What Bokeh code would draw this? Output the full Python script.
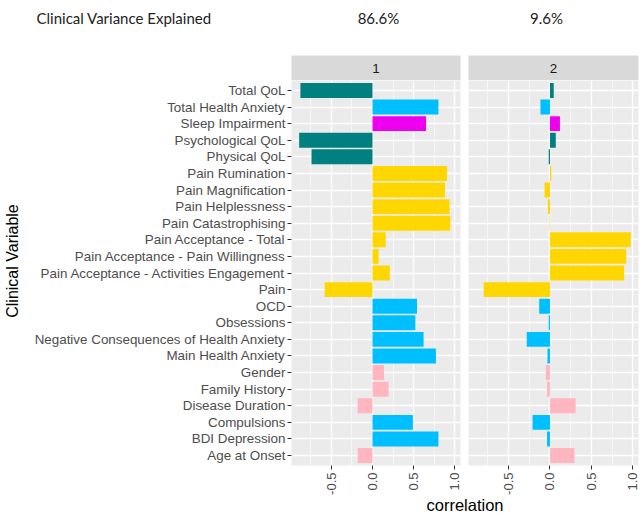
import math
from bokeh.plotting import figure
from bokeh.layouts import column, row
from bokeh.models import Range1d, FixedTicker, PrintfTickFormatter, ColumnDataSource
from bokeh.core.properties import value
from bokeh.embed import file_html
from bokeh.resources import INLINE

# ---------------- data ----------------
categories = [
    "Total QoL", "Total Health Anxiety", "Sleep Impairment", "Psychological QoL",
    "Physical QoL", "Pain Rumination", "Pain Magnification", "Pain Helplessness",
    "Pain Catastrophising", "Pain Acceptance - Total", "Pain Acceptance - Pain Willingness",
    "Pain Acceptance - Activities Engagement", "Pain", "OCD", "Obsessions",
    "Negative Consequences of Health Anxiety", "Main Health Anxiety", "Gender",
    "Family History", "Disease Duration", "Compulsions", "BDI Depression", "Age at Onset",
]
groups = [
    "qol", "anx", "sleep", "qol", "qol", "pain", "pain", "pain", "pain", "pain", "pain",
    "pain", "pain", "anx", "anx", "anx", "anx", "demo", "demo", "demo", "anx", "anx", "demo",
]
comp1 = [-0.875, 0.80, 0.65, -0.89, -0.74, 0.905, 0.88, 0.935, 0.945, 0.16, 0.075,
         0.21, -0.58, 0.54, 0.52, 0.62, 0.77, 0.14, 0.195, -0.18, 0.49, 0.80, -0.18]
comp2 = [0.045, -0.115, 0.12, 0.07, -0.015, 0.015, -0.065, -0.025, -0.005, 0.975, 0.92,
         0.895, -0.80, -0.13, -0.015, -0.28, -0.03, -0.05, -0.035, 0.31, -0.21, -0.035, 0.295]
panel_labels = ["1", "2"]
variance_explained = ["86.6%", "9.6%"]
header_label = "Clinical Variance Explained"
x_title = "correlation"
y_title = "Clinical Variable"
x_ticks = [-0.5, 0.0, 0.5, 1.0]
x_minor_ticks = [-0.75, -0.25, 0.25, 0.75]
x_limits = (-0.983, 1.068)

palette = {"qol": "#008080", "anx": "#00BFFF", "sleep": "#EE00EE",
           "pain": "#FFD700", "demo": "#FFB6C1"}

# ---------------- layout constants ----------------
YT = 24                      # width of the y-title strip
LEFT = 291 - YT              # room for the category labels
PW1, PW2 = 169, 170
GAP = 4
RIGHT = 6
PH = 385
STRIP = 25
HEAD = 55
FOOT = 22
AXIS_H = 30
TOTAL_W = YT + LEFT + PW1 + 2 * GAP + PW2 + RIGHT

FONT_NAME = "Liberation Sans"
FONT = value(FONT_NAME)
n = len(categories)
ypos = [n - i for i in range(n)]
colors = [palette[g] for g in groups]
y_range = Range1d(0.4, n + 0.6)


def make_panel(vals, first):
    xr = Range1d(*x_limits)
    kw = dict(frame_width=PW1 if first else PW2, frame_height=PH, x_range=xr, y_range=y_range,
              toolbar_location=None, output_backend="svg",
              background_fill_color="#EBEBEB", border_fill_color="white",
              outline_line_color=None, min_border_top=0, min_border_bottom=0)
    if first:
        p = figure(min_border_left=LEFT, min_border_right=GAP, **kw)
    else:
        p = figure(y_axis_location=None, min_border_left=GAP, min_border_right=RIGHT, **kw)
    src = ColumnDataSource(dict(y=ypos, v=vals, c=colors))
    p.hbar(y="y", left=0, right="v", height=0.9, fill_color="c", line_color=None, source=src)

    p.xaxis.ticker = FixedTicker(ticks=x_ticks, minor_ticks=x_minor_ticks)
    p.xaxis.formatter = PrintfTickFormatter(format="%.1f")
    p.xaxis.major_label_orientation = math.pi / 2
    p.xaxis.major_label_text_font = FONT_NAME
    p.xaxis.major_label_text_font_size = "13px"
    p.xaxis.major_label_text_color = "#4D4D4D"
    p.xaxis.major_label_standoff = 3
    p.xaxis.axis_line_color = None
    p.xaxis.major_tick_line_color = "#333333"
    p.xaxis.major_tick_in = 0
    p.xaxis.major_tick_out = 4
    p.xaxis.minor_tick_line_color = None

    p.xgrid.ticker = FixedTicker(ticks=x_ticks, minor_ticks=x_minor_ticks)
    p.xgrid.grid_line_color = "white"
    p.xgrid.grid_line_width = 1.3
    p.xgrid.minor_grid_line_color = "white"
    p.xgrid.minor_grid_line_width = 0.6
    p.ygrid.ticker = FixedTicker(ticks=ypos)
    p.ygrid.grid_line_color = "white"
    p.ygrid.grid_line_width = 1.3

    if first:
        ax = p.yaxis[0]
        ax.ticker = FixedTicker(ticks=ypos)
        ax.major_label_overrides = {y: c for y, c in zip(ypos, categories)}
        ax.major_label_text_font = FONT_NAME
        ax.major_label_text_font_size = "13.4px"
        ax.major_label_text_color = "#4D4D4D"
        ax.major_label_standoff = 2
        ax.axis_line_color = None
        ax.major_tick_line_color = "#333333"
        ax.major_tick_in = 0
        ax.major_tick_out = 4
        ax.minor_tick_line_color = None
    return p


def make_strip(xr, label, first):
    s = figure(frame_width=PW1 if first else PW2, frame_height=STRIP, x_range=xr,
               y_range=Range1d(0, 1), x_axis_location=None, y_axis_location=None,
               toolbar_location=None, output_backend="svg",
               background_fill_color="#D9D9D9", border_fill_color="white",
               outline_line_color=None,
               min_border_left=LEFT if first else GAP,
               min_border_right=GAP if first else RIGHT,
               min_border_top=0, min_border_bottom=0)
    s.grid.grid_line_color = None
    s.text(x=[(xr.start + xr.end) / 2], y=[0.5], text=[label], text_align="center",
           text_baseline="middle", text_font=FONT, text_font_size="13.4px",
           text_color="#1A1A1A")
    return s


def blank(w, h):
    f = figure(width=w, height=h, x_range=Range1d(0, w), y_range=Range1d(h, 0),
               x_axis_location=None, y_axis_location=None, toolbar_location=None,
               output_backend="svg", outline_line_color=None, min_border=0)
    f.grid.grid_line_color = None
    return f


p1 = make_panel(comp1, True)
p2 = make_panel(comp2, False)
s1 = make_strip(p1.x_range, panel_labels[0], True)
s2 = make_strip(p2.x_range, panel_labels[1], False)

# y-axis title strip
ytf = blank(YT, STRIP + PH + AXIS_H)
ytf.text(x=[YT / 2], y=[STRIP + PH / 2 - 12], text=[y_title], angle=math.pi / 2,
         text_align="center", text_baseline="middle", text_font=FONT,
         text_font_size="16px", text_color="black")

# header
head = blank(TOTAL_W, HEAD)
head.text(x=[36], y=[17], text=[header_label], text_align="left", text_baseline="middle",
          text_font=value("Lato"), text_font_size="15px", text_color="#222222")
head.text(x=[378, 546], y=[17, 17], text=variance_explained, text_align="center",
          text_baseline="middle", text_font=value("Lato"), text_font_size="15px",
          text_color="#222222")

# footer
foot = blank(TOTAL_W, FOOT)
foot.text(x=[YT + LEFT + (PW1 + 2 * GAP + PW2) / 2], y=[7], text=[x_title], text_align="center",
          text_baseline="middle", text_font=FONT, text_font_size="16.5px", text_color="black")

layout = column(head, row(ytf, column(s1, p1), column(s2, p2)), foot)

open("out.html", "w").write(file_html(layout, INLINE))
